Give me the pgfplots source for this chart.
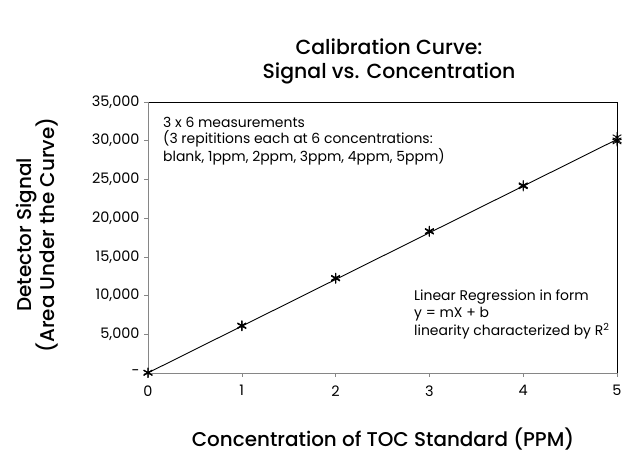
\documentclass[border=0pt]{standalone}
\usepackage{pgfplots}
\pgfplotsset{compat=1.18}
\usepackage{fontspec}
\setmainfont{Poppins}
\newfontfamily\medfont{Poppins Medium}
\definecolor{axgray}{RGB}{134,134,134}
\begin{document}
\begin{tikzpicture}[x=1bp,y=1bp]
\useasboundingbox (0,0) rectangle (624,452);
\begin{axis}[
  at={(148bp,79bp)}, anchor=south west,
  scale only axis, width=469bp, height=271bp,
  xmin=0, xmax=5, ymin=0, ymax=35000,
  scaled y ticks=false,
  xtick={0,1,2,3,4,5},
  ytick={0,5000,10000,15000,20000,25000,30000,35000},
  yticklabels={{-\hspace{22bp}},{5,000},{10,000},{15,000},{20,000},{25,000},{30,000},{35,000}},
  tick align=outside, major tick length=4bp,
  tick style={axgray, line width=0.6pt},
  xtick pos=bottom, ytick pos=left,
  axis line style={draw=none},
  tick label style={font=\fontsize{14.5}{16}\selectfont},
  /pgf/number format/assume math mode=true,
  xticklabel style={yshift=-5bp},
  yticklabel style={xshift=-1bp},
  clip=false,
]
\addplot[black, line width=0.9pt] coordinates {(0,20) (5,30170)};
\addplot[only marks, mark=asterisk, mark size=5bp, black, mark options={line width=0.9pt}] coordinates {
(0,0) (0,30) (0,60)
(1,6050) (1,6100) (1,6150)
(2,12200) (2,12250) (2,12300)
(3,18250) (3,18300) (3,18350)
(4,24100) (4,24200) (4,24250)
(5,29900) (5,30050) (5,30450)
};
\draw[black, line width=0.6pt] (rel axis cs:0,1) -- (rel axis cs:1,1) -- (rel axis cs:1,0);
\draw[axgray, line width=0.8pt] (rel axis cs:0,1) -- (rel axis cs:0,0) -- (rel axis cs:1,0);
\end{axis}
\begin{scope}[font=\fontsize{14}{17}\selectfont]
\node[anchor=west, inner sep=0] at (163,452-122) {3 x 6 measurements};
\node[anchor=west, inner sep=0] at (163,452-139) {(3 repititions each at 6 concentrations:};
\node[anchor=west, inner sep=0] at (163,452-157) {blank, 1ppm, 2ppm, 3ppm, 4ppm, 5ppm)};
\node[anchor=west, inner sep=0] at (414,452-297) {Linear Regression in form};
\node[anchor=west, inner sep=0] at (414,452-314) {y = mX + b};
\node[anchor=west, inner sep=0] at (414,452-331) {linearity characterized by R\textsuperscript{2}};
\end{scope}
\node[font=\fontsize{20.5}{22}\medfont] at (389,452-47) {Calibration Curve:};
\node[font=\fontsize{20.5}{22}\medfont] at (389,452-73) {Signal vs. Concentration};
\node[font=\fontsize{20}{22}\medfont] at (383,452-439) {Concentration of TOC Standard (PPM)};
\node[font=\fontsize{20}{22}\medfont, rotate=90] at (27,452-235) {Detector Signal};
\node[font=\fontsize{20}{22}\medfont, rotate=90] at (47,452-235) {(Area Under the Curve)};
\end{tikzpicture}
\end{document}
